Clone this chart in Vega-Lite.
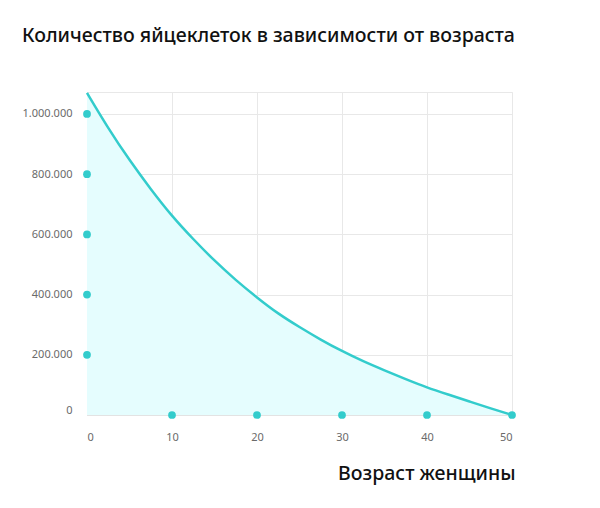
{
  "$schema": "https://vega.github.io/schema/vega-lite/v6.json",
  "width": 425,
  "height": 323,
  "autosize": "none",
  "padding": {"left": 87, "top": 92, "right": 88, "bottom": 93},
  "background": "white",
  "title": {
    "text": "Количество яйцеклеток в зависимости от возраста",
    "anchor": "start",
    "frame": "group",
    "baseline": "alphabetic",
    "dx": -65,
    "dy": -22,
    "font": "Noto Sans",
    "fontSize": 19.5,
    "fontWeight": 500,
    "color": "#111111"
  },
  "config": {
    "view": {"stroke": "#e8e8e8"},
    "axis": {
      "domainColor": "#e3e3e3",
      "gridColor": "#e8e8e8",
      "ticks": false,
      "labelFont": "Noto Sans",
      "labelFontSize": 11,
      "labelColor": "#6a6a6a"
    }
  },
  "datasets": {
    "curve": [
      {"age": 0, "count": 1070000},
      {"age": 2.5, "count": 952000},
      {"age": 5, "count": 846000},
      {"age": 7.5, "count": 750000},
      {"age": 10, "count": 660000},
      {"age": 12.5, "count": 584000},
      {"age": 15, "count": 512000},
      {"age": 17.5, "count": 448000},
      {"age": 20, "count": 390000},
      {"age": 22.5, "count": 336000},
      {"age": 25, "count": 292000},
      {"age": 27.5, "count": 250000},
      {"age": 30, "count": 212000},
      {"age": 32.5, "count": 178000},
      {"age": 35, "count": 148000},
      {"age": 37.5, "count": 119000},
      {"age": 40, "count": 91000},
      {"age": 42.5, "count": 68000},
      {"age": 45, "count": 45000},
      {"age": 47.5, "count": 22000},
      {"age": 50, "count": 0}
    ],
    "dots": [
      {"age": 0, "count": 200000},
      {"age": 0, "count": 400000},
      {"age": 0, "count": 600000},
      {"age": 0, "count": 800000},
      {"age": 0, "count": 1000000},
      {"age": 10, "count": 0},
      {"age": 20, "count": 0},
      {"age": 30, "count": 0},
      {"age": 40, "count": 0},
      {"age": 50, "count": 0}
    ]
  },
  "encoding": {
    "x": {
      "field": "age",
      "type": "quantitative",
      "scale": {"domain": [0, 50], "nice": false},
      "axis": {
        "values": [0, 10, 20, 30, 40, 50],
        "title": "Возраст женщины",
        "titleFont": "Noto Sans",
        "titleFontSize": 19.5,
        "titleFontWeight": 500,
        "titleColor": "#111111",
        "titleAlign": "right",
        "titleBaseline": "alphabetic",
        "titleX": 428,
        "titleY": 64,
        "labelPadding": 16
      }
    },
    "y": {
      "field": "count",
      "type": "quantitative",
      "scale": {"domain": [0, 1073000], "nice": false},
      "axis": {
        "values": [0, 200000, 400000, 600000, 800000, 1000000],
        "title": null,
        "labelPadding": 15,
        "labelBaseline": {"condition": {"test": "datum.value === 0", "value": "bottom"}, "value": "middle"},
        "labelExpr": "replace(replace(format(datum.value, ','), ',', '.'), ',', '.')"
      }
    }
  },
  "layer": [
    {
      "data": {"name": "curve"},
      "mark": {"type": "area", "interpolate": "basis", "fill": "#e5fdfe"}
    },
    {
      "data": {"name": "curve"},
      "mark": {"type": "line", "interpolate": "basis", "color": "#33cccc", "strokeWidth": 2.5}
    },
    {
      "data": {"name": "dots"},
      "mark": {"type": "circle", "size": 60, "color": "#33cccc", "opacity": 1}
    }
  ]
}
